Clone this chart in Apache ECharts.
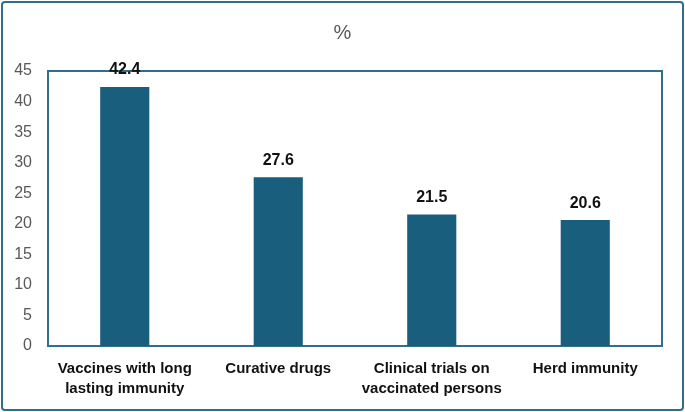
<!DOCTYPE html>
<html>
<head>
<meta charset="utf-8">
<script src="https://cdn.jsdelivr.net/npm/echarts@6/dist/echarts.min.js"></script>
<style>
  html, body { margin: 0; padding: 0; background: #fff; }
  #frame {
    position: absolute; left: 1px; top: 1px; width: 679px; height: 406px;
    border: 2px solid #2f6f8c; border-radius: 4px; box-sizing: content-box;
  }
  #chart { position: absolute; left: 0; top: 0; width: 685px; height: 412px; }
</style>
</head>
<body>
<div id="frame"></div>
<div id="chart"></div>
<script>
var categories = ['Vaccines with long\nlasting immunity', 'Curative drugs', 'Clinical trials on\nvaccinated persons', 'Herd immunity'];
var percentValues = [42.4, 27.6, 21.5, 20.6];

var chart = echarts.init(document.getElementById('chart'));
var option = {
    animation: false,
    title: {
        text: '%',
        left: 'center',
        top: 18,
        textStyle: { color: '#595959', fontSize: 20, fontWeight: 'normal', fontFamily: 'Liberation Sans' }
    },
    grid: {
        left: 48,
        right: 23,
        top: 71,
        bottom: 66,
        show: true,
        borderColor: '#2f6f8c',
        borderWidth: 2
    },
    xAxis: {
        type: 'category',
        data: categories,
        axisLine: { show: false },
        axisTick: { show: false },
        axisLabel: {
            color: '#111',
            fontSize: 15,
            fontWeight: 'bold',
            fontFamily: 'Liberation Sans',
            lineHeight: 20,
            margin: 13,
            interval: 0
        }
    },
    yAxis: {
        type: 'value',
        min: 0,
        max: 45,
        interval: 5,
        splitLine: { show: false },
        axisLine: { show: false },
        axisTick: { show: false },
        axisLabel: { color: '#595959', fontSize: 16, fontFamily: 'Liberation Sans', margin: 16 }
    },
    series: [{
        name: '%',
        type: 'bar',
        data: percentValues,
        barWidth: '32%',
        itemStyle: { color: '#1a5e7e' },
        label: {
            show: true,
            position: 'top',
            distance: 9,
            color: '#111',
            fontSize: 16,
            fontWeight: 'bold',
            fontFamily: 'Liberation Sans'
        }
    }]
};
chart.setOption(option);
</script>
</body>
</html>
